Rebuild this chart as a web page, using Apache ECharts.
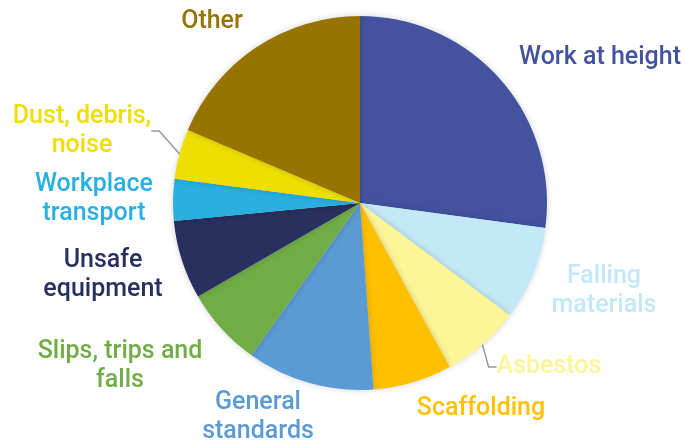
<!DOCTYPE html>
<html>
<head>
<meta charset="utf-8">
<script src="https://cdn.jsdelivr.net/npm/echarts@6/dist/echarts.min.js"></script>
<style>html,body{margin:0;padding:0;background:#fff}#c{width:685px;height:441px}</style>
</head>
<body>
<div id="c"></div>
<script>
var categories = ['Work at height', 'Falling\nmaterials', 'Asbestos', 'Scaffolding', 'General\nstandards', 'Slips, trips and\nfalls', 'Unsafe\nequipment', 'Workplace\ntransport', 'Dust, debris,\nnoise', 'Other'];
var values = [27.1, 8.1, 6.8, 6.8, 11.0, 6.8, 6.8, 3.6, 4.3, 18.6];
var colors = ['#4353A0', '#C3E8F7', '#FDF597', '#FFC000', '#5B9BD5', '#70AD47', '#27305F', '#29B0E0', '#EEDF00', '#977300'];
var labelPos = [[600, 58], [604, 291], [549, 367], [481, 409], [258, 417], [120, 366], [103, 275], [94, 199], [82, 131], [212, 22]];
var withLine = [false, false, true, false, false, false, false, false, true, false];

var chart = echarts.init(document.getElementById('c'));
var data = categories.map(function (n, i) {
  return {
    name: n, value: values[i],
    itemStyle: { color: colors[i] },
    label: { color: colors[i] },
    labelLine: { show: withLine[i] }
  };
});
chart.setOption({
  animation: false,
  series: [{
    type: 'pie',
    center: [360, 203],
    radius: 187,
    startAngle: 90,
    clockwise: true,
    data: data,
    itemStyle: { shadowBlur: 6, shadowColor: 'rgba(0,0,0,0.18)' },
    label: {
      show: true,
      position: 'outside',
      fontFamily: 'Roboto',
      fontWeight: 500,
      fontSize: 25,
      lineHeight: 29,
      align: 'center',
      overflow: 'none',
      formatter: '{b}'
    },
    labelLine: { lineStyle: { color: '#999', width: 1.5 }, length: 8, length2: 8 },
    labelLayout: function (p) {
      var pos = labelPos[p.dataIndex];
      return { x: pos[0], y: pos[1], align: 'center', verticalAlign: 'middle' };
    }
  }]
});
</script>
</body>
</html>
